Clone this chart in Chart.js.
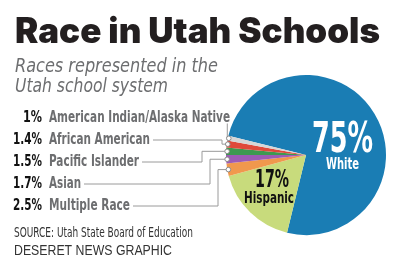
<!DOCTYPE html>
<html>
<head>
<meta charset="utf-8">
<script src="https://cdn.jsdelivr.net/npm/chart.js@4/dist/chart.umd.min.js"></script>
<style>
  html, body { margin: 0; padding: 0; background: #fff; }
  #wrap { width: 400px; height: 273px; }
</style>
</head>
<body>
<div id="wrap"><canvas id="myChart" width="400" height="273"></canvas></div>
<script>
const categories = ['White', 'Hispanic', 'Multiple Race', 'Asian', 'Pacific Islander', 'African American', 'American Indian/Alaska Native'];
const shares = [75, 17, 2.5, 1.7, 1.5, 1.4, 1];
const shareLabels = ['75%', '17%', '2.5%', '1.7%', '1.5%', '1.4%', '1%'];
const sliceColors = ['#1a7db4', '#c8db7c', '#f0984d', '#9c5cb4', '#3d9a50', '#df4a3b', '#d6d6d6'];

const titleText = 'Race in Utah Schools';
const subtitleLines = ['Races represented in the', 'Utah school system'];
const sourceText = 'SOURCE: Utah State Board of Education';
const creditText = 'DESERET NEWS GRAPHIC';

const NARROW = '"Liberation Sans Narrow", "DejaVu Sans Condensed", "Roboto Condensed", sans-serif';

// draw text squeezed/stretched to a given width
function fitText(ctx, text, x, y, width, font, color, align) {
  ctx.save();
  ctx.font = font;
  ctx.fillStyle = color;
  ctx.textBaseline = 'alphabetic';
  ctx.textAlign = 'left';
  const w = ctx.measureText(text).width;
  const sx = width / w;
  let left = x;
  if (align === 'center') left = x - width / 2;
  if (align === 'right') left = x - width;
  ctx.translate(left, y);
  ctx.scale(sx, 1);
  ctx.fillText(text, 0, 0);
  ctx.restore();
}

// rows of the callouts on the left (slice index -> text baseline, widths, elbow x)
const callouts = [
  { i: 6, base: 121.5, pw: 19, lw: 181, elbow: null },
  { i: 5, base: 143.5, pw: 29, lw: 101, elbow: 222 },
  { i: 4, base: 165.5, pw: 29, lw: 90, elbow: 202 },
  { i: 3, base: 187.5, pw: 29, lw: 32, elbow: 210 },
  { i: 2, base: 209.5, pw: 29, lw: 81, elbow: 218 },
];

const textPlugin = {
  id: 'textPlugin',
  afterDraw(chart) {
    const { ctx } = chart;
    const meta = chart.getDatasetMeta(0);

    fitText(ctx, titleText, 15, 43, 365, '900 35px Inter, "DejaVu Sans", sans-serif', '#231f20');
    fitText(ctx, subtitleLines[0], 15, 71.5, 203, 'italic 20px ' + NARROW, '#6d6e70');
    fitText(ctx, subtitleLines[1], 15, 92, 153, 'italic 20px ' + NARROW, '#6d6e70');

    callouts.forEach((c) => {
      const arc = meta.data[c.i];
      const mid = (arc.startAngle + arc.endAngle) / 2;
      const dx = arc.x + Math.cos(mid) * (arc.outerRadius - 1);
      const dy = arc.y + Math.sin(mid) * (arc.outerRadius - 1);

      fitText(ctx, shareLabels[c.i], 42, c.base, c.pw, 'bold 15px ' + NARROW, '#111', 'right');
      fitText(ctx, categories[c.i], 49, c.base, c.lw, 'bold 15px ' + NARROW, '#6d6e70');

      ctx.save();
      ctx.strokeStyle = '#9a9a9a';
      ctx.lineWidth = 1;
      ctx.beginPath();
      if (c.elbow === null) {
        ctx.moveTo(dx - 1.5, dy);
        ctx.lineTo(dx - 1.5, c.base + 2);
      } else {
        const ly = c.base - 3.5;
        ctx.moveTo(dx, dy);
        ctx.lineTo(c.elbow, dy);
        ctx.lineTo(c.elbow, ly);
        ctx.lineTo(49 + c.lw + 3, ly);
      }
      ctx.stroke();
      ctx.beginPath();
      ctx.arc(dx, dy, 2.3, 0, Math.PI * 2);
      ctx.fillStyle = '#fff';
      ctx.fill();
      ctx.strokeStyle = '#8a8a8a';
      ctx.stroke();
      ctx.restore();
    });

    // labels inside the big slices
    fitText(ctx, shareLabels[0], 342.5, 152, 61, 'bold 42px ' + NARROW, '#fff', 'center');
    fitText(ctx, categories[0], 342.5, 169, 33, 'bold 16px ' + NARROW, '#fff', 'center');
    fitText(ctx, shareLabels[1], 272, 187, 34, 'bold 24px ' + NARROW, '#111', 'center');
    fitText(ctx, categories[1], 269, 203, 50, 'bold 16px ' + NARROW, '#111', 'center');

    fitText(ctx, sourceText, 14, 236.5, 179, '14px ' + NARROW, '#333');
    fitText(ctx, creditText, 14, 255, 158, '14px "Liberation Sans", Arial, sans-serif', '#333');
  },
};

const config = {
  type: 'pie',
  data: {
    labels: categories,
    datasets: [
      {
        data: shares,
        backgroundColor: sliceColors,
        borderWidth: 0,
      },
    ],
  },
  options: {
    responsive: false,
    animation: false,
    rotation: 284,
    layout: {
      padding: { left: 226, right: 14, top: 75, bottom: 38 },
    },
    plugins: {
      legend: { display: false },
      tooltip: { enabled: false },
    },
  },
  plugins: [textPlugin],
};

const myChart = new Chart(document.getElementById('myChart'), config);
</script>
</body>
</html>
